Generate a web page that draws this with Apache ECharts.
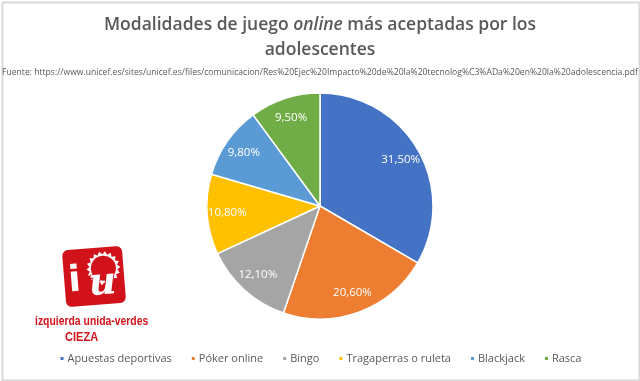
<!DOCTYPE html>
<html>
<head>
<meta charset="utf-8">
<script src="https://cdn.jsdelivr.net/npm/echarts@6/dist/echarts.min.js"></script>
<style>
html,body{margin:0;padding:0;background:#fff;}
#c{width:640px;height:381px;}
</style>
</head>
<body>
<div id="c"></div>
<script>
var categories = ['Apuestas deportivas', 'Póker online', 'Bingo', 'Tragaperras o ruleta', 'Blackjack', 'Rasca'];
var values = [31.5, 20.6, 12.1, 10.8, 9.8, 9.5];
var colors = ['#4472C4', '#ED7D31', '#A5A5A5', '#FFC000', '#5B9BD5', '#70AD47'];

var data = categories.map(function (n, i) { return { name: n, value: values[i], itemStyle: { color: colors[i] } }; });
var labelData = categories.map(function (n, i) { return { name: n, value: values[i] }; });

function fmt(v) { return v.toFixed(2).replace('.', ',') + '%'; }

// sunburst polygon for logo decoration
function sunPoints(cx, cy, r1, r2, n) {
  var pts = [];
  for (var k = 0; k < n * 2; k++) {
    var a = Math.PI * k / n;
    var r = (k % 2 === 0) ? r2 : r1;
    pts.push([cx + r * Math.cos(a), cy + r * Math.sin(a)]);
  }
  return pts;
}

var chart = echarts.init(document.getElementById('c'), null, { renderer: 'canvas' });
chart.setOption({
  backgroundColor: '#ffffff',
  animation: false,
  title: [{
    left: 'center',
    top: 8,
    text: '{a|Modalidades de juego }{i|online}{a| más aceptadas por los}\n{a|adolescentes}',
    textStyle: {
      rich: {
        a: { fontFamily: 'Open Sans', fontWeight: 600, fontSize: 17.5, color: '#595959', lineHeight: 25 },
        i: { fontFamily: 'Open Sans', fontWeight: 600, fontStyle: 'italic', fontSize: 17.5, color: '#595959', lineHeight: 25 }
      }
    }
  }, {
    left: 'center',
    top: 63,
    text: 'Fuente: https://www.unicef.es/sites/unicef.es/files/comunicacion/Res%20Ejec%20Impacto%20de%20la%20tecnolog%C3%ADa%20en%20la%20adolescencia.pdf',
    textStyle: { fontFamily: 'Open Sans', fontWeight: 'normal', fontSize: 8.6, color: '#595959' }
  }],
  legend: {
    bottom: 12,
    left: 'center',
    icon: 'rect',
    itemWidth: 5,
    itemHeight: 5,
    itemGap: 18,
    textStyle: { fontFamily: 'Open Sans', fontSize: 11, color: '#595959', padding: [0, 0, 0, -2] },
    data: categories
  },
  series: [{
    type: 'pie',
    center: [320, 206],
    radius: 113,
    startAngle: 90,
    clockwise: true,
    label: { show: false },
    labelLine: { show: false },
    emphasis: { disabled: true },
    itemStyle: { borderColor: '#ffffff', borderWidth: 1.5 },
    data: data
  }, {
    type: 'pie',
    center: [320, 206],
    radius: [67, 113],
    startAngle: 90,
    clockwise: true,
    silent: true,
    legendHoverLink: false,
    itemStyle: { color: 'rgba(0,0,0,0)' },
    label: {
      show: true,
      position: 'inside',
      color: '#ffffff',
      fontFamily: 'Open Sans',
      fontSize: 11.5,
      formatter: function (p) { return fmt(p.value); }
    },
    labelLine: { show: false },
    emphasis: { disabled: true },
    data: labelData
  }],
  graphic: [
    { type: 'rect', left: 0, top: 0, shape: { x: 1, y: 1, width: 637, height: 378 }, style: { fill: 'none', stroke: '#d9d9d9', lineWidth: 2 }, silent: true },
    {
      type: 'group', x: 94, y: 276, rotation: 0.08,
      children: [
        { type: 'rect', shape: { x: -30, y: -28, width: 60, height: 57, r: 6 }, style: { fill: '#d2121b' } },
        { type: 'polygon', shape: { points: sunPoints(10, -7, 14, 17, 18) }, style: { fill: '#ffffff' } },
        { type: 'circle', shape: { cx: 10, cy: -7, r: 12.5 }, style: { fill: '#d2121b' } },
        { type: 'text', style: { x: -26, y: -14, text: 'i', fontFamily: 'DejaVu Sans', fontWeight: 'bold', fontSize: 36, fill: '#ffffff', stroke: '#d2121b', lineWidth: 1 } },
        { type: 'text', style: { x: -6, y: -10, text: 'u', fontFamily: 'DejaVu Serif', fontWeight: 'bold', fontStyle: 'italic', fontSize: 38, fill: '#ffffff', stroke: '#d2121b', lineWidth: 1.5 } }
      ]
    },
    { type: 'text', x: 35, y: 315, scaleX: 0.8, style: { text: 'izquierda unida-verdes', fontFamily: 'Liberation Sans', fontWeight: 'bold', fontSize: 13, fill: '#d2121b' } },
    { type: 'text', x: 65, y: 331, scaleX: 0.85, style: { text: 'CIEZA', fontFamily: 'Liberation Sans', fontWeight: 'bold', fontSize: 13, fill: '#d2121b' } }
  ]
});
</script>
</body>
</html>
